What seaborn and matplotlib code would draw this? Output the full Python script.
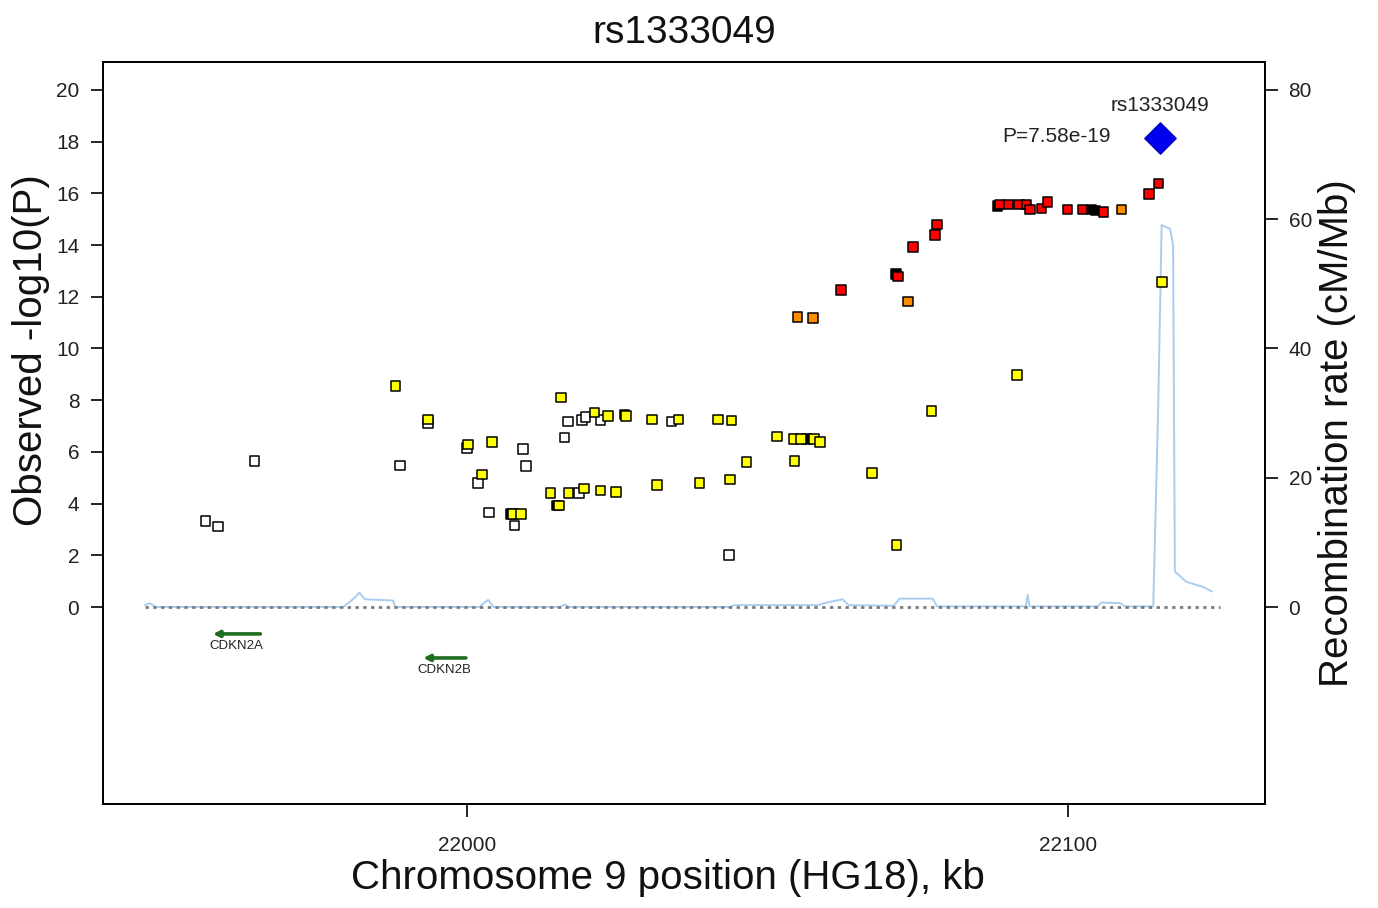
import numpy as np
import pandas as pd
import matplotlib
matplotlib.use("Agg")
import matplotlib.pyplot as plt
import seaborn as sns

# SNP positions (kb) and -log10(P), grouped by LD colour class
white_pos = [21956.5, 21958.5, 21964.6, 21988.8, 21993.5, 22000.0, 22009.3, 22009.8,
             22001.8, 22003.7, 22007.9, 22016.8, 22016.2, 22019.1, 22019.7, 22022.2,
             22018.6, 22034.0, 22043.6]
white_p = [3.33, 3.11, 5.66, 5.48, 7.10, 6.14, 6.12, 5.45,
           4.80, 3.66, 3.15, 7.18, 6.55, 7.23, 7.36, 7.23,
           4.40, 7.18, 2.01]

black_pos = [22026.2, 22007.2, 22015.0, 22056.5, 22071.4, 22088.3, 22103.9, 22104.6]
black_p = [7.45, 3.61, 3.93, 6.51, 12.87, 15.52, 15.38, 15.33]

yellow_pos = [21988.1, 21993.5, 22000.2, 22004.2, 22002.5, 22007.6, 22009.0, 22015.6,
              22021.2, 22023.5, 22026.5, 22030.8, 22035.2, 22013.9, 22015.3, 22016.9,
              22019.5, 22022.2, 22024.8, 22031.6, 22041.8, 22044.0, 22051.6, 22054.3,
              22055.6, 22057.7, 22058.7, 22046.5, 22054.5, 22038.7, 22043.8, 22067.4,
              22071.5, 22077.3, 22091.5, 22115.7]
yellow_p = [8.56, 7.26, 6.29, 6.38, 5.12, 3.61, 3.61, 8.10,
            7.52, 7.39, 7.38, 7.25, 7.25, 4.40, 3.93, 4.40,
            4.59, 4.50, 4.46, 4.73, 7.25, 7.21, 6.59, 6.51,
            6.51, 6.51, 6.38, 5.61, 5.66, 4.80, 4.93, 5.18,
            2.40, 7.57, 8.97, 12.58]

orange_pos = [22055.0, 22057.6, 22073.4, 22108.9]
orange_p = [11.22, 11.18, 11.81, 15.38]

red_pos = [22062.2, 22071.7, 22074.2, 22077.9, 22078.2, 22088.6, 22090.1, 22091.9,
           22093.1, 22093.7, 22095.6, 22096.6, 22099.9, 22102.4, 22105.9, 22113.5,
           22115.1]
red_p = [12.27, 12.79, 13.93, 14.39, 14.79, 15.57, 15.57, 15.57,
         15.57, 15.38, 15.42, 15.66, 15.38, 15.38, 15.29, 15.98,
         16.38]

# index SNP
lead_name = "rs1333049"
lead_pos = [22115.3]
lead_p = [18.13]
lead_label = "P=7.58e-19"

# recombination rate (cM/Mb)
recomb_pos = [21946.4, 21947.2, 21948.2, 21979.4, 21981.0, 21982.1, 21983.0, 21987.7,
              21988.0, 22002.0, 22003.5, 22004.4, 22015.5, 22016.3, 22017.0, 22043.8,
              22044.5, 22058.5, 22059.5, 22062.5, 22063.5, 22071.0, 22072.0, 22077.5,
              22078.2, 22093.0, 22093.3, 22093.6, 22105.0, 22105.6, 22108.7, 22109.5,
              22114.2, 22115.0, 22115.6, 22117.0, 22117.5, 22117.8, 22119.7, 22122.5,
              22124.0]
recomb_rate = [0.3, 0.6, 0.0, 0.0, 1.2, 2.2, 1.2, 1.0,
               0.0, 0.0, 1.1, 0.0, 0.0, 0.4, 0.0, 0.0,
               0.3, 0.3, 0.6, 1.2, 0.3, 0.2, 1.3, 1.3,
               0.1, 0.1, 1.9, 0.1, 0.1, 0.7, 0.6, 0.1,
               0.1, 30.0, 59.1, 58.5, 56.0, 5.5, 3.9, 3.1,
               2.4]

# genes
gene_names = ["CDKN2A", "CDKN2B"]
gene_start = [21957.7, 21992.7]
gene_end = [21965.6, 21999.8]
gene_row = [-1.04, -1.97]

ld_colors = {"white": "#FFFFFF", "black": "#000000", "yellow": "#FFFF00",
             "orange": "#FF8C00", "red": "#FF0000"}

frames = []
for name, pos, p in [("white", white_pos, white_p), ("black", black_pos, black_p),
                     ("yellow", yellow_pos, yellow_p), ("orange", orange_pos, orange_p),
                     ("red", red_pos, red_p)]:
    frames.append(pd.DataFrame({"pos": pos, "logp": p, "ld": name}))
snps = pd.concat(frames, ignore_index=True)
recomb = pd.DataFrame({"pos": recomb_pos, "rate": recomb_rate})

sns.set_style("ticks")
plt.rcParams["font.family"] = ["Liberation Sans", "DejaVu Sans"]

fig = plt.figure(figsize=(13.78, 9.08), dpi=100)
ax = fig.add_axes([0.0747, 0.1145, 0.8433, 0.8172])
ax2 = ax.twinx()

ylo, yhi = -7.62, 21.08
xlo, xhi = 21939.4, 22132.8

# recombination on right axis (behind points)
ax.set_zorder(ax2.get_zorder() + 1)
ax.patch.set_visible(False)
sns.lineplot(data=recomb, x="pos", y="rate", ax=ax2, color="#a9cdf0", linewidth=1.4,
             sort=False)
ax.plot([21946.4, 22125.3], [0, 0], linestyle=(0, (1.2, 1.6)), color="#7a7a7a",
        linewidth=2.0, zorder=1)

sns.scatterplot(data=snps, x="pos", y="logp", hue="ld", palette=ld_colors, marker="s",
                s=48, edgecolor="black", linewidth=1.1, legend=False, ax=ax, zorder=3)
ax.scatter(lead_pos, lead_p, marker="D", s=260, color="#0000EE", edgecolor="#0000aa",
           linewidth=0.8, zorder=4)
ax.text(lead_pos[0], 19.38, lead_name, ha="center", va="center", fontsize=15,
        color="#222222")
ax.text(22107.2, 18.18, lead_label, ha="right", va="center", fontsize=15,
        color="#222222")

for name, s, e, r in zip(gene_names, gene_start, gene_end, gene_row):
    ax.annotate("", xy=(s, r), xytext=(e, r),
                arrowprops=dict(arrowstyle="-|>", color="#1f6e1f", lw=2.6,
                                mutation_scale=9, shrinkA=0, shrinkB=0))
    ax.text((s + e) / 2, r - 0.47, name, ha="center", va="center", fontsize=9.5,
            color="#222222")

ax.set_xlim(xlo, xhi)
ax.set_ylim(ylo, yhi)
ax2.set_ylim(ylo * 4, yhi * 4)
ax.set_xticks([22000, 22100])
ax.set_yticks(range(0, 21, 2))
ax2.set_yticks([0, 20, 40, 60, 80])

ax.set_xlabel("Chromosome 9 position (HG18), kb", fontsize=29, labelpad=3,
              color="#111111")
ax.set_ylabel("Observed -log10(P)", fontsize=29, labelpad=4, color="#111111")
ax2.set_ylabel("Recombination rate (cM/Mb)", fontsize=29, labelpad=4, color="#111111")
ax.set_title("rs1333049", fontsize=28, pad=14, color="#111111")
ax.xaxis.label.set_x(0.486)
ax.yaxis.label.set_y(0.612)

for a in (ax, ax2):
    a.tick_params(direction="out", length=9, width=1.2, labelsize=15, pad=8,
                  colors="black", labelcolor="#222222")
    for sp in a.spines.values():
        sp.set_visible(True)
        sp.set_linewidth(1.3)
        sp.set_color("black")
ax.tick_params(axis="x", pad=14)

fig.savefig("out.png", dpi=100)
